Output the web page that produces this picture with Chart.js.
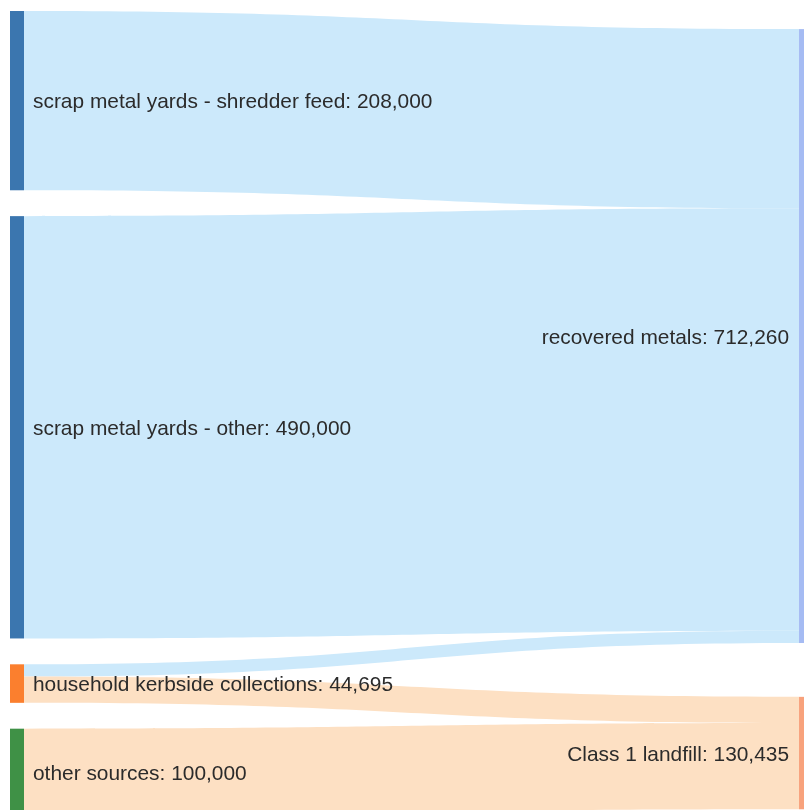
<!DOCTYPE html>
<html lang="en">
<head>
  <meta charset="UTF-8">
  <title>Scrap metal flows</title>
  <script src="https://cdn.jsdelivr.net/npm/chart.js"></script>
  <style>
    html, body {
      margin: 0;
      padding: 0;
      background: #fff;
      overflow: hidden;
      height: 810px;
    }
    #wrap {
      width: 804px;
      height: 816px;
    }
  </style>
</head>
<body>
  <div id="wrap"><canvas id="chart"></canvas></div>

  <script>
    // sources (left column) and destinations (right column)
    const sources = ['scrap metal yards - shredder feed', 'scrap metal yards - other', 'household kerbside collections', 'other sources'];
    const targets = ['recovered metals', 'Class 1 landfill'];

    // flows: source index -> target index, tonnes
    const flowFrom = [0, 1, 2, 2, 3];
    const flowTo = [0, 0, 0, 1, 1];
    const flowValues = [208000, 490000, 14260, 30435, 100000];

    const sourceColors = ['#3b76af', '#3b76af', '#fb7f2e', '#3f9146'];
    const targetColors = ['#a5bbf3', '#f8a27c'];
    const linkColors = ['#cce9fb', '#fde0c3'];

    function totals(count, idx) {
      const out = new Array(count).fill(0);
      flowValues.forEach((v, i) => { out[idx[i]] += v; });
      return out;
    }

    const sankeyPlugin = {
      id: 'sankeyFlows',
      afterDraw(chart) {
        const ctx = chart.ctx;
        const x = chart.scales.x;
        const y = chart.scales.y;
        const opts = chart.options.plugins.sankeyFlows;
        const nodeW = opts.nodeWidth;

        const srcTot = totals(sources.length, flowFrom);
        const tgtTot = totals(targets.length, flowTo);

        // stack nodes down each column, in data units
        const srcTop = [];
        let cum = 0;
        srcTot.forEach(v => { srcTop.push(cum); cum += v + opts.gapLeft; });
        const tgtTop = [];
        cum = opts.rightOffset;
        tgtTot.forEach(v => { tgtTop.push(cum); cum += v + opts.gapRight; });

        const xL = x.getPixelForValue(0) + nodeW;
        const xR = x.getPixelForValue(1);
        const xm = (xL + xR) / 2;

        // links
        const srcOff = srcTop.slice();
        const tgtOff = tgtTop.slice();
        flowValues.forEach((v, i) => {
          const s = flowFrom[i], t = flowTo[i];
          const y0t = y.getPixelForValue(srcOff[s]);
          const y0b = y.getPixelForValue(srcOff[s] + v);
          const y1t = y.getPixelForValue(tgtOff[t]);
          const y1b = y.getPixelForValue(tgtOff[t] + v);
          srcOff[s] += v;
          tgtOff[t] += v;
          ctx.beginPath();
          ctx.moveTo(xL, y0t);
          ctx.bezierCurveTo(xm, y0t, xm, y1t, xR, y1t);
          ctx.lineTo(xR, y1b);
          ctx.bezierCurveTo(xm, y1b, xm, y0b, xL, y0b);
          ctx.closePath();
          ctx.fillStyle = linkColors[t];
          ctx.fill();
        });

        // nodes
        srcTot.forEach((v, i) => {
          const t = y.getPixelForValue(srcTop[i]);
          const b = y.getPixelForValue(srcTop[i] + v);
          ctx.fillStyle = sourceColors[i];
          ctx.fillRect(x.getPixelForValue(0), t, nodeW, b - t);
        });
        tgtTot.forEach((v, i) => {
          const t = y.getPixelForValue(tgtTop[i]);
          const b = y.getPixelForValue(tgtTop[i] + v);
          ctx.fillStyle = targetColors[i];
          ctx.fillRect(xR, t, nodeW, b - t);
        });

        // labels, vertically centred on their node
        ctx.font = '20.9px "Liberation Sans", Arial, sans-serif';
        ctx.fillStyle = '#2b2b2b';
        ctx.textBaseline = 'middle';
        ctx.textAlign = 'left';
        srcTot.forEach((v, i) => {
          const mid = y.getPixelForValue(srcTop[i] + v / 2) + 2;
          ctx.fillText(sources[i] + ': ' + v.toLocaleString('en-US'), xL + 9, mid);
        });
        ctx.textAlign = 'right';
        tgtTot.forEach((v, i) => {
          const mid = y.getPixelForValue(tgtTop[i] + v / 2) + 2;
          ctx.fillText(targets[i] + ': ' + v.toLocaleString('en-US'), xR - 10, mid);
        });
      }
    };

    new Chart(document.getElementById('chart'), {
      type: 'scatter',
      data: { datasets: [{ data: [] }] },
      options: {
        responsive: true,
        maintainAspectRatio: false,
        animation: false,
        layout: { padding: { left: 10, top: 11, right: 0, bottom: 0 } },
        scales: {
          x: { type: 'linear', min: 0, max: 1.0063, display: false },
          y: { type: 'linear', min: 0, max: 934000, reverse: true, display: false }
        },
        plugins: {
          legend: { display: false },
          tooltip: { enabled: false },
          sankeyFlows: { nodeWidth: 14, gapLeft: 30000, gapRight: 62500, rightOffset: 21000 }
        }
      },
      plugins: [sankeyPlugin]
    });
  </script>
</body>
</html>
